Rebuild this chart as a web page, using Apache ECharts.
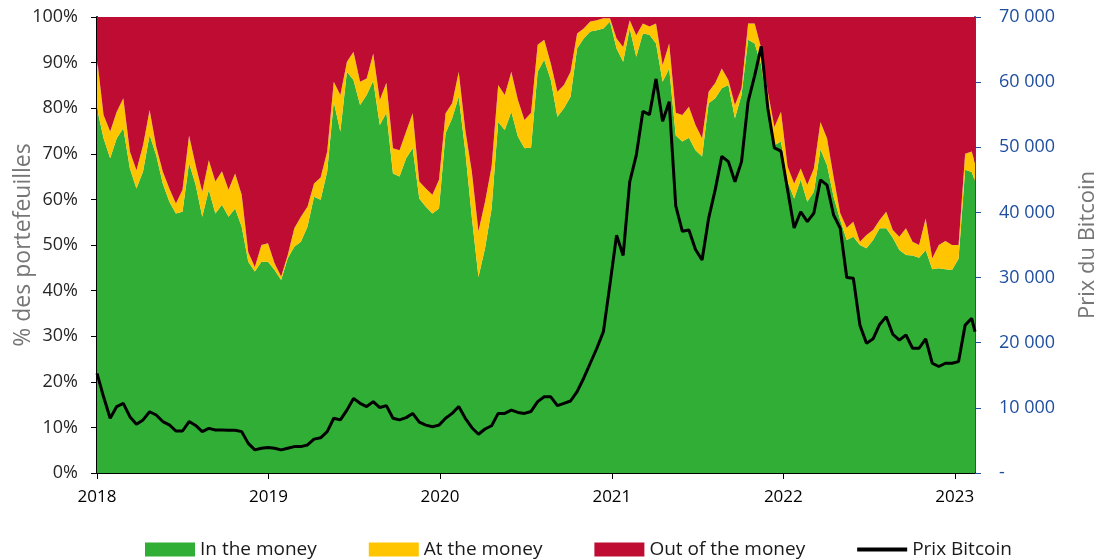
<!DOCTYPE html>
<html>
<head>
<meta charset="utf-8">
<script src="https://cdn.jsdelivr.net/npm/echarts@6/dist/echarts.min.js"></script>
<style>
  html, body { margin: 0; padding: 0; background: #fff; }
  #chart { width: 1100px; height: 560px; }
</style>
</head>
<body>
<div id="chart"></div>
<script>
  // one point every two weeks from 2018-01-01, plus the last reading
  const startDate = '2018-01-01'
  const stepDays = 14
  const lastDate = '2023-02-13'

  // % of wallets
  const inMoney = [
    80, 73.4, 69.0, 73.4, 75.6, 66.8, 62.4, 66.1, 74.1, 69.7,
    63.5, 59.5, 56.9, 57.3, 68, 63.2, 56.2, 62.1, 56.9, 58.8,
    56.2, 58.0, 54, 46.3, 44.2, 46.3, 46.3, 44.5, 42.3, 47.1,
    49.6, 50.7, 54.0, 60.6, 59.9, 66.1, 81.4, 74.9, 88.0, 86.2,
    80.7, 82.9, 86, 76.3, 79, 65.7, 65.0, 69.0, 71.2, 60.2,
    58.4, 56.9, 58.0, 74.5, 77.8, 82.5, 70.5, 56, 43, 49.3,
    58.0, 77.0, 75.2, 79.2, 73.8, 71.2, 71.4, 88.0, 90.6, 86.2,
    78.1, 80.0, 82.5, 93.1, 95.3, 96.8, 97.1, 97.5, 99.0, 93.1,
    90.2, 97.5, 91.3, 96.4, 96.1, 94.2, 85.8, 88.7, 74, 72.7,
    73.5, 70.8, 69.4, 81.1, 82.2, 84.4, 85.1, 77.8, 82.9, 95.0,
    94.2, 89.5, 79.2, 71.9, 72.7, 63.9, 60.2, 64.3, 59.5, 61.7,
    71, 67.5, 60.6, 55.5, 51.1, 51.8, 50.0, 49.3, 51.1, 53.7,
    53.7, 51.6, 48.9, 47.8, 47.7, 47.2, 48.9, 44.7, 44.9, 44.7,
    44.5, 47, 66.5, 66, 64
  ]
  const atMoney = [
    11, 5.1, 5.9, 5.8, 6.6, 3.7, 4.0, 5.8, 5.5, 1.9,
    2.6, 2.9, 2.2, 4.8, 6, 4.3, 5.5, 6.5, 7.0, 7.4,
    5.9, 7.7, 7, 2.1, 1.0, 3.7, 4.1, 1.5, 0.8, 0.7,
    4.1, 5.5, 4.4, 2.9, 4.9, 4.4, 4.4, 8.0, 2.2, 6.2,
    5.1, 3.6, 6, 5.5, 6.6, 5.5, 5.8, 5.9, 7.7, 3.7,
    4.0, 4.1, 6.3, 4.4, 3.3, 5.5, 4.7, 10, 10, 10.2,
    9.2, 8.1, 7.7, 8.8, 8.0, 6.2, 7.6, 5.9, 4.4, 3.6,
    5.5, 5.1, 5.5, 3.3, 2.2, 2.2, 2.2, 2.2, 0.7, 2.2,
    3.2, 1.8, 4.7, 2.2, 1.8, 4.4, 3.7, 5.5, 5, 5.8,
    6.8, 5.5, 4.0, 2.5, 3.3, 4.3, 1.1, 2.9, 1.5, 3.6,
    4.4, 3.6, 4.4, 4.0, 6.5, 3.3, 3.3, 2.5, 3.7, 5.1,
    6, 5.9, 4.3, 1.5, 2.7, 3.3, 0.7, 2.9, 2.2, 1.8,
    3.6, 1.7, 2.9, 5.9, 3.0, 2.8, 6.9, 2.4, 5.1, 6.2,
    5.5, 3, 3.5, 4.5, 4
  ]
  // bitcoin price
  const btcPrice = [
    15300, 11700, 8400, 10200, 10700, 8650, 7500, 8150, 9400, 8900,
    7900, 7400, 6450, 6450, 7900, 7300, 6350, 6850, 6600, 6600,
    6550, 6550, 6350, 4550, 3550, 3800, 3900, 3800, 3550, 3800,
    4050, 4050, 4300, 5200, 5400, 6350, 8400, 8150, 9650, 11450,
    10700, 10200, 10950, 10050, 10350, 8400, 8150, 8500, 9150, 7800,
    7350, 7100, 7350, 8400, 9150, 10200, 8400, 6950, 5950, 6750,
    7250, 9150, 9150, 9650, 9300, 9150, 9450, 10950, 11700, 11700,
    10350, 10700, 11050, 12500, 14550, 16850, 19150, 21700, 29000, 36500,
    33400, 44700, 48800, 55500, 55000, 60500, 54000, 57000, 41000, 37100,
    37300, 34300, 32700, 39100, 43500, 48600, 47800, 44700, 47800, 57000,
    61000, 65500, 56000, 49900, 49400, 43500, 37600, 40100, 38600, 39900,
    45000, 44200, 39600, 37600, 30000, 29900, 22700, 19900, 20600, 22800,
    24000, 21300, 20400, 21200, 19150, 19150, 20600, 16850, 16350, 16850,
    16850, 17100, 22700, 23750, 21700
  ]

  const t0 = Date.parse(startDate)
  const dates = inMoney.map((v, i) => i < inMoney.length - 1 ? t0 + i * stepDays * 86400000 : Date.parse(lastDate))
  const outMoney = inMoney.map((v, i) => +(100 - v - atMoney[i]).toFixed(1))
  const pairs = arr => arr.map((v, i) => [dates[i], v])
  const yearMs = 365.25 * 86400000

  const font = '"Open Sans", "Liberation Sans", sans-serif'
  const blue = '#1f4e9f'

  const chart = echarts.init(document.getElementById('chart'))

  const areaSeries = (name, data, color) => ({
    name: name,
    type: 'line',
    stack: 'share',
    data: pairs(data),
    color: color,
    symbol: 'none',
    lineStyle: { width: 0 },
    areaStyle: { color: color, opacity: 1 },
    emphasis: { disabled: true }
  })

  let option = {
    useUTC: true,
    animation: false,
    textStyle: { fontFamily: font },
    grid: { left: 97, right: 125, top: 17, bottom: 87, containLabel: false, outerBoundsMode: 'none' },
    legend: {
      left: 140,
      top: 535,
      itemWidth: 50,
      itemHeight: 14,
      itemGap: 52,
      textStyle: { fontFamily: font, fontSize: 19, color: '#1a1a1a' },
      data: [
        { name: 'In the money', icon: 'rect' },
        { name: 'At the money', icon: 'rect' },
        { name: 'Out of the money', icon: 'rect' },
        { name: 'Prix Bitcoin', icon: 'path://M0,0L50,0L50,4L0,4Z' }
      ]
    },
    xAxis: {
      type: 'time',
      min: Date.parse(startDate),
      max: Date.parse(lastDate),
      minInterval: yearMs,
      maxInterval: yearMs,
      splitLine: { show: false },
      axisLine: { lineStyle: { color: '#000', width: 2 } },
      axisTick: { show: true, length: 6, lineStyle: { color: '#000' } },
      axisLabel: {
        margin: 16,
        fontFamily: font,
        fontSize: 17,
        color: '#000',
        formatter: '{yyyy}'
      }
    },
    yAxis: [{
      type: 'value',
      min: 0,
      max: 100,
      interval: 10,
      name: '% des portefeuilles',
      nameLocation: 'middle',
      nameRotate: 90,
      nameGap: 62,
      nameMoveOverlap: false,
      nameTextStyle: { fontFamily: font, fontSize: 23, color: '#767676' },
      splitLine: { show: false },
      axisLine: { show: true, lineStyle: { color: '#000', width: 2 } },
      axisTick: { show: true, length: 6, lineStyle: { color: '#000' } },
      axisLabel: { margin: 19, fontFamily: font, fontSize: 18, color: '#262626', formatter: '{value}%' }
    }, {
      type: 'value',
      position: 'right',
      min: 0,
      max: 70000,
      interval: 10000,
      name: 'Prix du Bitcoin',
      nameLocation: 'middle',
      nameRotate: 90,
      nameGap: 102,
      nameTextStyle: { fontFamily: font, fontSize: 22, color: '#767676' },
      splitLine: { show: false },
      axisLine: { show: true, lineStyle: { color: blue, width: 2 } },
      axisTick: { show: true, length: 6, lineStyle: { color: blue } },
      axisLabel: {
        margin: 24,
        fontFamily: font,
        fontSize: 18,
        color: blue,
        formatter: v => v === 0 ? '-' : String(v).replace(/\B(?=(\d{3})+(?!\d))/g, ' ')
      }
    }],
    series: [
      areaSeries('In the money', inMoney, '#31ae35'),
      areaSeries('At the money', atMoney, '#ffc500'),
      areaSeries('Out of the money', outMoney, '#be0c33'),
      {
        name: 'Prix Bitcoin',
        type: 'line',
        yAxisIndex: 1,
        data: pairs(btcPrice),
        color: '#000',
        symbol: 'none',
        z: 5,
        lineStyle: { width: 3, color: '#000' },
        emphasis: { disabled: true }
      }
    ]
  }

  chart.setOption(option)
</script>
</body>
</html>
